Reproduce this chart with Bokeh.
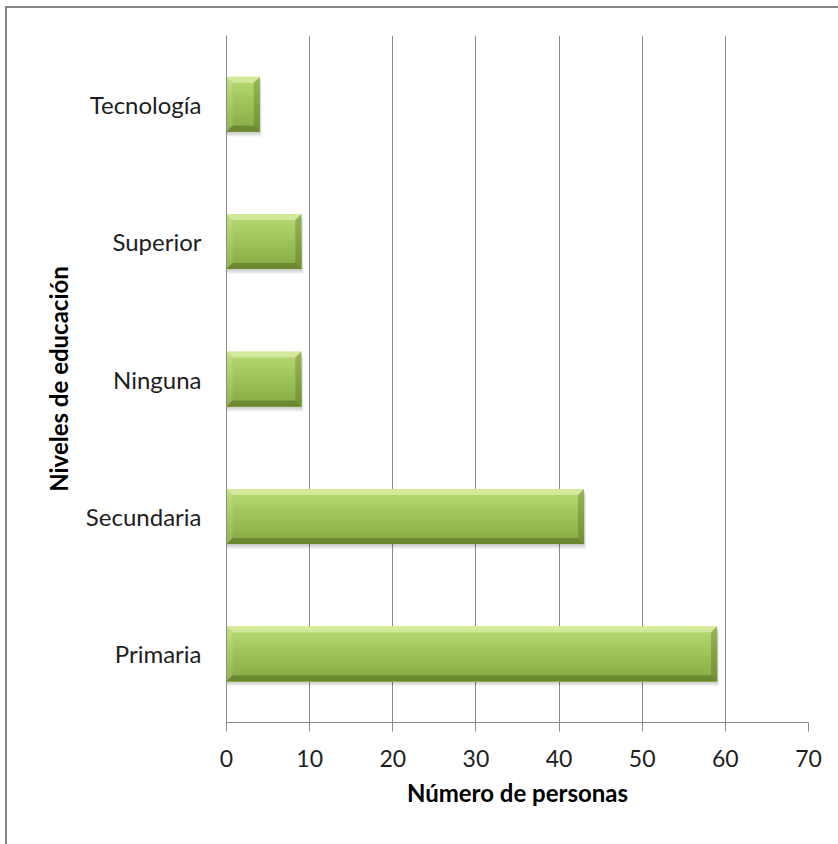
import numpy as np
from bokeh.plotting import figure
from bokeh.models import Range1d, FixedTicker
from bokeh.embed import file_html
from bokeh.resources import INLINE

# Education level counts (bottom to top)
categories = ["Primaria", "Secundaria", "Ninguna", "Superior", "Tecnología"]
counts = [59, 43, 9, 9, 4]
x_ticks = [0, 10, 20, 30, 40, 50, 60, 70]

X_MAX = 70
FRAME_W, FRAME_H = 582, 687
BAR_H = 0.4
FONT = "Lato"
GRID = "#8a8a8a"

p = figure(
    frame_width=FRAME_W, frame_height=FRAME_H,
    min_border_left=219, min_border_right=30,
    min_border_top=27, min_border_bottom=122,
    x_range=Range1d(0, X_MAX), y_range=Range1d(-0.5, len(categories) - 0.5),
    output_backend="svg", toolbar_location=None,
)
p.styles = {
    "margin-left": "5px", "margin-top": "6px",
    "border-left": "2px solid #868686", "border-top": "2px solid #868686",
}
p.outline_line_color = None
p.background_fill_color = "white"
p.border_fill_color = "white"

# pixel-to-data conversions for the bevel and shadow
px_x = X_MAX / FRAME_W
px_y = len(categories) / FRAME_H

# vertical grid
p.xgrid.ticker = FixedTicker(ticks=x_ticks)
p.xgrid.grid_line_color = GRID
p.xgrid.grid_line_width = 1
p.ygrid.visible = False

# x axis
p.xaxis.ticker = FixedTicker(ticks=x_ticks)
p.xaxis.axis_line_color = GRID
p.xaxis.major_tick_line_color = GRID
p.xaxis.major_tick_out = 9
p.xaxis.major_tick_in = 0
p.xaxis.minor_tick_line_color = None
p.xaxis.major_label_text_font = FONT
p.xaxis.major_label_text_font_size = "23px"
p.xaxis.major_label_text_color = "#1e1e1e"
p.xaxis.major_label_standoff = 18
p.xaxis.axis_label = "Número de personas"
p.xaxis.axis_label_text_font = FONT
p.xaxis.axis_label_text_font_style = "bold"
p.xaxis.axis_label_text_font_size = "24px"
p.xaxis.axis_label_text_color = "black"
p.xaxis.axis_label_standoff = 8

# y axis with category names
p.yaxis.ticker = FixedTicker(ticks=list(range(len(categories))))
p.yaxis.major_label_overrides = {i: c for i, c in enumerate(categories)}
p.yaxis.axis_line_color = GRID
p.yaxis.major_tick_out = 0
p.yaxis.major_tick_in = 0
p.yaxis.minor_tick_line_color = None
p.yaxis.major_label_text_font = FONT
p.yaxis.major_label_text_font_size = "24px"
p.yaxis.major_label_text_color = "#1e1e1e"
p.yaxis.major_label_standoff = 25
p.yaxis.axis_label = "Niveles de educación"
p.yaxis.axis_label_text_font = FONT
p.yaxis.axis_label_text_font_style = "bold"
p.yaxis.axis_label_text_font_size = "24px"
p.yaxis.axis_label_text_color = "black"
p.yaxis.axis_label_standoff = 10

ys = np.arange(len(categories), dtype=float)
vals = np.array(counts, dtype=float)
zeros = np.zeros_like(vals)
y_bot = ys - BAR_H / 2
y_top = ys + BAR_H / 2

# soft drop shadow under each bar
for k in range(1, 6):
    p.quad(left=zeros + 0.5 * px_x, right=vals + k * 0.4 * px_x,
           bottom=y_bot - k * px_y, top=y_top - k * px_y,
           fill_color="black", fill_alpha=0.045, line_color=None)

# vertical gradient body, each layer painted down to the bar's bottom
top_rgb = np.array([0xBA, 0xDA, 0x74])
mid_rgb = np.array([0x9E, 0xC3, 0x57])
bot_rgb = np.array([0x86, 0xA8, 0x42])
n_strips = 16
for s in range(n_strips):
    t0 = s / n_strips
    tm = (s + 0.5) / n_strips
    if tm < 0.5:
        c = top_rgb + (mid_rgb - top_rgb) * (tm / 0.5)
    else:
        c = mid_rgb + (bot_rgb - mid_rgb) * ((tm - 0.5) / 0.5)
    col = "#%02x%02x%02x" % tuple(int(round(v)) for v in c)
    p.quad(left=zeros, right=vals,
           top=y_top - t0 * BAR_H, bottom=y_bot,
           fill_color=col, line_color=None)

# bevel edges
bx = 6 * px_x
by = 6 * px_y
x0 = zeros
x1 = vals
top_xs = [[a, b, b - bx, a + bx] for a, b in zip(x0, x1)]
top_ys = [[t, t, t - by, t - by] for t in y_top]
bot_xs = [[a, b, b - bx, a + bx] for a, b in zip(x0, x1)]
bot_ys = [[u, u, u + by, u + by] for u in y_bot]
lft_xs = [[a, a, a + bx, a + bx] for a in x0]
lft_ys = [[u, t, t - by, u + by] for u, t in zip(y_bot, y_top)]
rgt_xs = [[b, b, b - bx, b - bx] for b in x1]
rgt_ys = [[u, t, t - by, u + by] for u, t in zip(y_bot, y_top)]

p.patches(lft_xs, lft_ys, fill_color="white", fill_alpha=0.12, line_color=None)
p.patches(rgt_xs, rgt_ys, fill_color="#3c5214", fill_alpha=0.28, line_color=None)
p.patches(bot_xs, bot_ys, fill_color="#3c5214", fill_alpha=0.38, line_color=None)
p.patches(top_xs, top_ys, fill_color="#f4ffcc", fill_alpha=0.45, line_color=None)

open("out.html", "w").write(file_html(p, INLINE))
